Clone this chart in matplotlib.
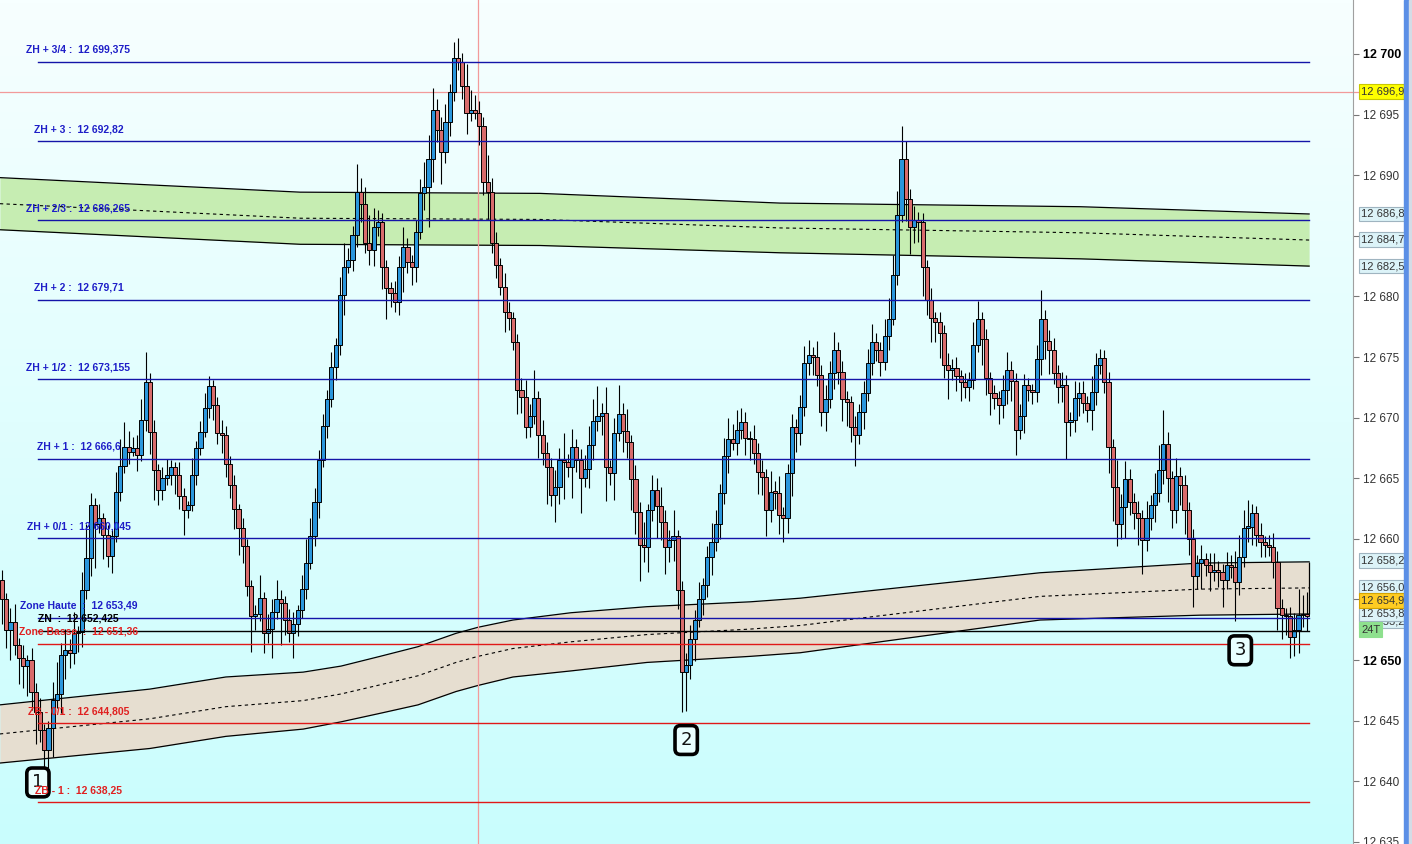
import numpy as np
import matplotlib.pyplot as plt
from matplotlib.colors import LinearSegmentedColormap
from matplotlib.patches import Rectangle
from matplotlib.transforms import blended_transform_factory

plt.rcParams['font.family'] = ['Liberation Sans', 'DejaVu Sans']

# ---- data ----
first_open = 12656.6
closes = [
    12655.0, 12652.5, 12653.1, 12651.2, 12650.2, 12649.5, 12650.0, 12647.4, 12645.7, 12644.2,
    12642.6, 12644.4, 12646.7, 12647.2, 12650.4, 12650.8, 12650.6, 12652.2, 12652.3,
    12655.8, 12658.4, 12662.8, 12661.2, 12661.7, 12660.3, 12658.6, 12660.2, 12663.9, 12666.0,
    12667.6, 12667.2, 12667.5, 12666.9, 12669.8, 12672.9, 12668.8, 12665.7, 12664.0, 12665.0,
    12665.3, 12665.9, 12665.3, 12663.5, 12662.4, 12662.8, 12665.3, 12667.5, 12668.8, 12670.8,
    12672.6, 12671.0, 12668.7, 12668.6, 12666.2, 12664.4, 12662.5, 12660.9, 12659.4, 12656.1, 12653.6,
    12653.8, 12655.1, 12652.2, 12652.6, 12654.0, 12655.0, 12654.7, 12653.3, 12652.2, 12653.0, 12654.1,
    12655.9, 12658.0, 12660.2, 12663.0, 12666.5, 12669.3,
    12671.5, 12674.2, 12676.0, 12680.1, 12682.4, 12683.0, 12685.1, 12688.6, 12687.6, 12684.4,
    12683.8, 12685.7, 12686.1, 12682.4, 12680.7, 12680.3, 12679.5, 12682.4, 12684.1, 12682.8,
    12682.4, 12685.3, 12688.5, 12689.0, 12691.3, 12695.4, 12693.7, 12691.9, 12694.4, 12696.9,
    12699.7, 12699.3, 12697.4, 12695.1, 12695.4, 12695.1, 12694.1, 12689.4, 12688.6,
    12684.4, 12682.6, 12680.8, 12678.7, 12678.2, 12676.2, 12672.3, 12671.7, 12669.2,
    12670.1, 12671.6, 12668.6, 12667.1, 12665.9, 12663.6, 12664.3, 12666.5, 12666.3,
    12665.9, 12667.6, 12666.5, 12665.0, 12665.8, 12667.7, 12669.7, 12670.1, 12670.4, 12665.9,
    12665.4, 12668.7, 12670.3, 12668.9, 12668.0, 12664.9, 12662.2, 12659.5, 12659.3, 12662.4,
    12664.0, 12662.7, 12661.4, 12659.3, 12659.9, 12660.2, 12655.8, 12649.0, 12649.6, 12651.7,
    12653.3, 12655.0, 12656.2, 12658.5, 12659.7, 12661.2, 12663.8, 12666.8, 12668.2,
    12667.9, 12669.0, 12669.6, 12668.3, 12668.2, 12667.1, 12665.5, 12665.1, 12662.4, 12663.9,
    12663.8, 12662.0, 12661.7, 12665.4, 12669.2, 12668.7, 12670.9,
    12674.5, 12675.2, 12675.0, 12673.5, 12670.5, 12671.5, 12673.7, 12675.6, 12673.8, 12671.5,
    12671.3, 12669.2, 12668.6, 12670.5, 12672.0, 12674.5, 12676.2, 12675.6, 12674.6, 12676.7,
    12678.1, 12681.8, 12686.7, 12691.3, 12688.0, 12685.7, 12686.3, 12686.1, 12682.4, 12679.7,
    12678.2, 12677.9, 12677.0, 12674.3, 12673.9, 12674.1, 12673.4, 12672.9, 12672.5, 12673.1,
    12676.0, 12678.1, 12676.5, 12673.3, 12672.0, 12671.6, 12671.0, 12672.3, 12673.9, 12673.0,
    12669.0, 12670.1, 12672.7, 12672.3, 12672.1, 12674.8, 12678.1, 12676.3, 12675.6, 12673.7,
    12672.5, 12672.7, 12669.6, 12669.8, 12671.6, 12672.0, 12671.2, 12670.6, 12672.1, 12674.3,
    12674.9, 12672.9, 12667.6, 12664.3, 12661.2, 12662.6, 12664.9, 12663.0, 12662.1, 12661.7,
    12659.9, 12661.7, 12662.8, 12663.8, 12665.7, 12667.8, 12665.0, 12662.4, 12665.2, 12664.4,
    12662.4, 12660.0, 12656.9, 12658.0, 12658.3, 12657.8, 12657.3, 12657.4, 12657.3, 12656.6,
    12657.8, 12657.7, 12656.4, 12658.5, 12660.9, 12661.0, 12662.1, 12660.3, 12659.7, 12659.5,
    12659.3, 12658.1, 12654.3, 12653.7, 12653.6, 12651.9, 12652.5, 12653.7, 12653.8, 12653.6,
]
# wick length above / below the body, in points
upper_wick = [
    0.8, 0.5, 1.2, 1.5, 0.6, 1.0, 0.4, 1.0, 0.7, 1.2,
    0.5, 0.6, 1.5, 2.6, 1.0, 1.8, 0.9, 1.8, 0.5,
    1.5, 2.8, 1.0, 0.6, 1.2, 0.4, 0.8, 0.5, 1.6, 2.2,
    2.0, 1.3, 0.9, 1.1, 1.7, 2.5, 0.8, 1.0, 0.5, 0.9,
    1.3, 0.6, 0.4, 1.0, 0.7, 0.3, 1.4, 0.6, 0.9, 1.2,
    0.8, 0.5, 0.7, 1.1, 0.7, 0.6, 0.9, 0.4, 0.8, 0.6, 0.5,
    0.7, 1.9, 0.5, 1.2, 1.0, 1.6, 0.8, 0.6, 0.9, 1.0, 0.4,
    1.1, 2.0, 1.5, 1.2, 0.8, 1.0,
    0.8, 1.2, 0.6, 1.5, 2.0, 1.0, 0.7, 2.3, 1.2, 1.4,
    2.3, 1.6, 1.0, 0.8, 0.6, 0.5, 1.0, 0.9, 1.6, 0.7,
    0.6, 1.0, 1.2, 2.1, 2.0, 1.8, 0.9, 1.1, 1.5, 0.6,
    1.3, 1.6, 0.8, 1.8, 1.6, 1.2, 1.0, 0.7, 2.3,
    1.2, 0.9, 0.6, 1.1, 0.8, 0.5, 0.7, 1.0, 1.4,
    1.0, 2.3, 0.6, 1.2, 0.9, 0.8, 1.4, 1.0, 2.2,
    0.7, 1.5, 0.6, 0.9, 1.1, 1.6, 1.8, 2.5, 0.8, 2.1,
    0.6, 1.3, 2.4, 0.9, 1.8, 0.6, 1.2, 0.8, 1.9, 0.5,
    1.3, 1.0, 1.6, 1.0, 0.8, 2.2, 0.5, 0.7, 1.0, 1.2,
    0.8, 1.4, 0.6, 0.9, 1.6, 1.2, 0.7, 1.5, 1.8,
    1.3, 1.6, 1.2, 0.9, 0.6, 1.2, 0.8, 1.0, 0.7, 1.7,
    0.9, 1.4, 0.6, 0.8, 1.1, 0.7, 1.0,
    1.4, 1.2, 0.6, 1.3, 0.8, 1.2, 1.0, 1.5, 0.6, 0.9,
    0.7, 0.5, 0.9, 0.6, 1.0, 1.2, 1.5, 0.8, 0.6, 1.4,
    1.8, 1.6, 2.0, 2.8, 1.5, 0.9, 1.2, 0.7, 0.8, 0.6,
    1.0, 0.5, 0.8, 0.6, 1.0, 0.7, 0.9, 0.5, 0.8, 0.7,
    1.9, 1.5, 0.6, 0.8, 0.5, 0.7, 0.6, 1.2, 1.5, 0.8,
    0.7, 1.0, 0.9, 0.6, 0.5, 1.2, 2.4, 0.8, 0.9, 1.0,
    0.6, 1.1, 0.8, 0.7, 1.4, 0.9, 1.0, 0.6, 1.3, 1.0,
    0.8, 0.7, 0.9, 0.6, 2.2, 1.1, 1.5, 0.9, 0.8, 1.0,
    0.7, 1.4, 0.8, 1.6, 2.0, 2.8, 1.0, 0.6, 1.5, 0.7,
    0.9, 0.6, 0.8, 0.7, 1.2, 0.5, 1.0, 1.4, 0.8, 0.6,
    1.1, 0.9, 1.3, 1.8, 1.5, 2.2, 0.8, 0.6, 1.0, 0.5,
    0.8, 1.2, 0.9, 0.7, 0.6, 0.8, 1.4, 2.2, 1.6, 1.8,
]
lower_wick = [
    2.0, 1.5, 2.5, 0.8, 2.2, 1.8, 2.5, 1.5, 2.6, 1.0,
    2.0, 1.5, 2.4, 0.7, 1.6, 2.0, 1.3, 0.9, 1.5,
    1.2, 0.8, 1.5, 3.6, 0.7, 2.0, 0.9, 1.4, 0.5, 0.8,
    0.6, 1.0, 0.4, 1.3, 0.5, 0.9, 1.8, 2.5, 1.2, 0.8,
    0.6, 0.9, 1.6, 1.0, 2.1, 0.7, 0.5, 0.9, 0.6, 0.4,
    0.8, 1.2, 0.9, 1.5, 1.1, 1.0, 1.7, 2.2, 1.4, 0.8, 2.9,
    1.1, 0.6, 1.6, 0.8, 2.4, 0.6, 3.5, 1.2, 0.7, 2.0, 1.0,
    0.6, 0.9, 0.5, 0.8, 1.3, 0.6,
    1.0, 0.6, 1.1, 0.8, 1.6, 0.5, 0.9, 1.0, 1.5, 0.8,
    1.2, 1.3, 0.7, 1.8, 2.6, 1.2, 0.8, 1.0, 2.0, 0.9,
    1.5, 1.2, 0.6, 1.4, 3.3, 1.9, 1.0, 2.6, 0.9, 1.2,
    0.8, 0.6, 1.1, 1.7, 0.6, 0.5, 1.6, 1.0, 2.2,
    0.8, 1.1, 0.7, 1.6, 1.0, 0.6, 2.0, 1.3, 0.9,
    0.8, 0.6, 1.9, 1.0, 3.0, 0.9, 2.2, 1.4, 3.0,
    0.8, 2.5, 1.0, 2.9, 0.7, 1.6, 1.2, 0.8, 1.5, 2.8,
    1.0, 2.2, 0.6, 1.7, 1.3, 2.5, 1.8, 3.0, 1.2, 2.0,
    0.9, 2.6, 1.5, 2.2, 1.2, 1.7, 1.6, 3.3, 3.2, 1.2,
    1.8, 0.6, 1.3, 1.0, 1.5, 0.7, 1.2, 0.9, 1.4,
    0.6, 1.0, 0.8, 1.4, 1.7, 0.9, 1.8, 1.5, 2.2, 1.0,
    1.3, 1.6, 2.0, 1.2, 1.9, 1.5, 1.0,
    0.8, 1.0, 1.5, 0.9, 1.2, 1.6, 0.7, 1.3, 1.0, 1.8,
    2.0, 1.2, 2.6, 0.8, 1.4, 0.6, 1.0, 0.9, 1.2, 0.7,
    1.1, 0.5, 0.9, 0.6, 1.8, 2.2, 1.3, 1.6, 2.4, 1.2,
    2.0, 1.7, 2.1, 1.0, 2.4, 0.8, 1.2, 1.5, 0.9, 1.1,
    0.7, 0.6, 2.2, 1.4, 1.8, 0.9, 1.5, 1.0, 1.2, 1.6,
    2.1, 0.8, 1.4, 0.9, 1.0, 0.8, 1.3, 1.5, 2.0, 0.9,
    1.3, 1.2, 3.0, 1.1, 1.0, 1.5, 0.8, 1.0, 1.6, 1.1,
    0.7, 0.9, 2.2, 2.8, 1.8, 1.2, 2.5, 1.0, 1.3, 2.2,
    2.8, 0.9, 1.0, 1.4, 0.8, 1.2, 2.0, 1.5, 1.1, 1.6,
    2.0, 1.3, 2.5, 1.0, 2.1, 0.9, 1.6, 0.8, 1.3, 2.2,
    0.7, 0.9, 3.2, 1.0, 0.8, 1.2, 1.5, 0.9, 1.2, 1.0,
    0.7, 1.3, 1.8, 2.0, 1.5, 1.7, 1.6, 1.9, 1.0, 1.2,
]

level_names = ["ZH + 3/4 :", "ZH + 3 :", "ZH + 2/3 :", "ZH + 2 :", "ZH + 1/2 :",
               "ZH + 1 :", "ZH + 0/1 :", "Zone Haute  :", "ZN  :", "Zone Basse  :",
               "ZB - 0/1 :", "ZB - 1 :"]
level_values = [12699.375, 12692.82, 12686.265, 12679.71, 12673.155, 12666.6,
                12660.045, 12653.49, 12652.425, 12651.36, 12644.805, 12638.25]
level_side = ["H", "H", "H", "H", "H", "H", "H", "H", "N", "B", "B", "B"]

# moving bands (knots along the bar index)
green_idx = [-0.5, 70.6, 127.4, 184.2, 255.3, 309.5]
green_top = [12689.8, 12688.6, 12688.5, 12687.7, 12687.4, 12686.8]
green_bot = [12685.5, 12684.3, 12684.2, 12683.6, 12683.1, 12682.5]
beige_idx = [-0.5, 35.0, 53.0, 71.3, 80.3, 89.5, 98.5, 107.5, 112.7, 121.0,
             134.7, 152.7, 177.1, 189.0, 245.8, 283.7, 309.5]
beige_top = [12646.3, 12647.6, 12648.6, 12649.0, 12649.5, 12650.3, 12651.1, 12652.2, 12652.7, 12653.3,
             12653.9, 12654.4, 12654.8, 12655.1, 12657.2, 12658.0, 12658.1]
beige_bot = [12641.5, 12642.7, 12643.7, 12644.3, 12644.9, 12645.6, 12646.3, 12647.4, 12647.9, 12648.6,
             12649.1, 12649.8, 12650.3, 12650.6, 12653.3, 12653.7, 12653.8]

cursor_idx = 112.7
cursor_price = 12696.9
last_price = 12654.9
axis_boxes = [12686.8, 12684.7, 12682.5, 12658.2, 12656.0, 12653.2, 12653.8]
tick_count_label = "24T"
tick_count_price = 12652.5

marker_text = ["1", "2", "3"]
marker_idx = [8.5, 162.0, 293.2]
marker_price = [12639.9, 12643.4, 12650.8]


def fr(v):
    return f"{v:,}".replace(",", " ").replace(".", ",")


opens = [first_open] + closes[:-1]
n = len(closes)
x = np.arange(n)
o = np.array(opens)
c = np.array(closes)
hi = np.maximum(o, c) + np.array(upper_wick)
lo = np.minimum(o, c) - np.array(lower_wick)

W, H = 1412, 844
fig = plt.figure(figsize=(W / 100, H / 100), dpi=100)
fig.patch.set_facecolor("white")
ax = fig.add_axes([0, 0, 1353 / W, 1])

step = 1305 / (n - 1)
xl = (-2 / step, 1351 / step)
yl = (12634.82, 12704.455)
ax.set_xlim(*xl)
ax.set_ylim(*yl)

cmap = LinearSegmentedColormap.from_list("bg", ["#c9fdfd", "#f7ffff"])
ax.imshow(np.linspace(0, 1, 256).reshape(-1, 1), cmap=cmap, origin="lower",
          extent=[xl[0], xl[1], yl[0], yl[1]], aspect="auto", zorder=0)

# bands
for bi, bt, bb, fc in [(green_idx, green_top, green_bot, "#c6edb2"),
                       (beige_idx, beige_top, beige_bot, "#e6ded0")]:
    ax.fill_between(bi, bb, bt, color=fc, zorder=1, lw=0)
    ax.plot(bi, bt, color="black", lw=0.9, zorder=1.5)
    ax.plot(bi, bb, color="black", lw=0.9, zorder=1.5)
    ax.plot(bi, (np.array(bt) + np.array(bb)) / 2, color="black",
            lw=0.8, ls=(0, (3, 3)), zorder=1.5)
ax.vlines(beige_idx[-1], beige_bot[-1], beige_top[-1], color="black", lw=0.9, zorder=1.5)

# cursor
ax.axvline(cursor_idx, color="#f29a9a", lw=0.9, zorder=1.8)
ax.axhline(cursor_price, xmax=1.004, color="#f29a9a", lw=0.9, zorder=1.8, clip_on=False)

# candles
up = c >= o
colors = np.where(up, "#2a96dc", "#d86c6c")
ax.vlines(x, lo, hi, color="black", lw=0.8, zorder=2.5)
ax.bar(x, np.maximum(np.abs(c - o), 0.12), bottom=np.minimum(o, c), width=0.98,
       color=colors, edgecolor="black", linewidth=0.7, zorder=3)

# swing markers
for t, mi, mp in zip(marker_text, marker_idx, marker_price):
    ax.text(mi, mp, t, ha="center", va="center", fontsize=13, color="#111",
            family="DejaVu Sans", zorder=5,
            bbox=dict(boxstyle="round,pad=0.3,rounding_size=0.3",
                      fc="#e9ffff", ec="black", lw=2.6))

# levels
line_col = {"H": "#1414a8", "N": "black", "B": "#e01818"}
text_col = {"H": "#1e1ec8", "N": "black", "B": "#e02020"}
for name, val, side in zip(level_names, level_values, level_side):
    ax.axhline(val, xmin=38 / 1353, xmax=1309 / 1353, color=line_col[side], lw=1.0, zorder=4)
    ax.annotate(f"{name}  {fr(val)}", xy=(78.5 / 1353, val),
                xycoords=("axes fraction", "data"), xytext=(0, 8.6),
                textcoords="offset points", ha="center", va="center",
                fontsize=7.5, fontweight="bold", color=text_col[side], zorder=6)

# right price axis
for s in ["left", "top", "bottom"]:
    ax.spines[s].set_visible(False)
ax.spines["right"].set_color("#a0a0a0")
ax.set_xticks([])
ax.yaxis.tick_right()
ticks = np.arange(12635, 12701, 5)
ax.set_yticks(ticks)
# 12 685 and 12 655 sit under the value boxes
ax.set_yticklabels(["" if t in (12685, 12655) else fr(int(t)) for t in ticks])
ax.tick_params(axis="y", direction="out", length=4, width=0.8, pad=3,
               color="#777777", labelcolor="#333333", labelsize=8.5)
for lab, t in zip(ax.get_yticklabels(), ticks):
    if t % 50 == 0:
        lab.set_fontweight("bold")
        lab.set_color("black")
        lab.set_fontsize(9)

tr = blended_transform_factory(ax.transAxes, ax.transData)
bx = 1361 / 1353
box_kw = dict(transform=tr, ha="left", va="center", fontsize=8, color="#333333",
              clip_on=False)
for v in axis_boxes:
    ax.text(bx, v, fr(v), zorder=8,
            bbox=dict(boxstyle="square,pad=0.2", fc="#dcf3f8", ec="#9fb4c0", lw=0.8), **box_kw)
ax.text(bx, last_price, fr(last_price), zorder=9,
        bbox=dict(boxstyle="square,pad=0.2", fc="#ffcc22", ec="#d4a400", lw=0.8), **box_kw)
ax.text(bx, cursor_price, fr(cursor_price), zorder=9,
        bbox=dict(boxstyle="square,pad=0.2", fc="#ffff00", ec="#c8c800", lw=0.8), **box_kw)
ax.text(bx, tick_count_price, tick_count_label, zorder=9,
        bbox=dict(boxstyle="square,pad=0.2", fc="#8ee08e", ec="#8ee08e", lw=0.8), **box_kw)

fig.patches.append(Rectangle((1404 / W, 0), 5 / W, 1, transform=fig.transFigure,
                             color="#5b8fe6", zorder=0))
fig.patches.append(Rectangle((1409 / W, 0), 3 / W, 1, transform=fig.transFigure,
                             color="#d4dce6", zorder=0))

fig.savefig("out.png", dpi=100)
